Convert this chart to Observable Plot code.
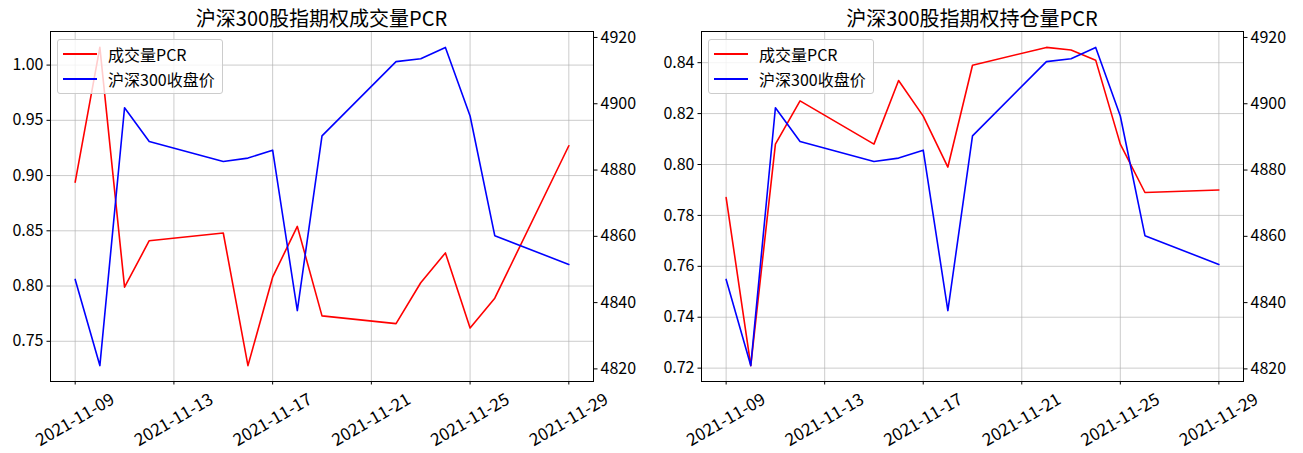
<!DOCTYPE html>
<html>
<head>
<meta charset="utf-8">
<script src="https://cdn.jsdelivr.net/npm/d3@7"></script>
<script src="https://cdn.jsdelivr.net/npm/@observablehq/plot@0.6"></script>
<style>
html, body { margin: 0; padding: 0; background: #fff; }
#root { position: relative; width: 1303px; height: 453px; overflow: hidden;
  font-family: 'Noto Sans CJK SC', 'Noto Sans', sans-serif; color: #000; }
.layer { position: absolute; top: 0; }
.title { position: absolute; top: 5px; height: 26px; line-height: 26px; font-size: 20px;
  text-align: center; white-space: nowrap; }
.legend { position: absolute; width: 166px; height: 55px; box-sizing: border-box;
  background: rgba(255,255,255,0.8); border: 1px solid #cccccc; border-radius: 3px; }
.legend .sw { position: absolute; left: 5px; width: 34px; height: 2px; }
.legend .lb { position: absolute; left: 50px; font-size: 16px; line-height: 20px; height: 20px; white-space: nowrap; }
</style>
</head>
<body>
<div id="root"></div>
<script>
// ---- data ----
const dates = ["2021-11-09","2021-11-10","2021-11-11","2021-11-12","2021-11-15","2021-11-16","2021-11-17",
  "2021-11-18","2021-11-19","2021-11-22","2021-11-23","2021-11-24","2021-11-25","2021-11-26","2021-11-29"];
const volumePCR = [0.894, 1.016, 0.799, 0.841, 0.848, 0.728, 0.808, 0.854, 0.773, 0.766, 0.803, 0.830, 0.762, 0.789, 0.927];
const openInterestPCR = [0.787, 0.721, 0.808, 0.825, 0.808, 0.833, 0.819, 0.799, 0.839, 0.846, 0.845, 0.841, 0.808, 0.789, 0.790];
const hs300Close = [4847.0, 4821.0, 4898.8, 4888.6, 4882.6, 4883.6, 4886.0, 4837.6, 4890.3, 4912.7, 4913.6, 4917.0, 4896.3, 4860.2, 4851.5];
const xTickLabels = ["2021-11-09","2021-11-13","2021-11-17","2021-11-21","2021-11-25","2021-11-29"];
const volumeTicks = [0.75, 0.80, 0.85, 0.90, 0.95, 1.00];
const oiTicks = [0.72, 0.74, 0.76, 0.78, 0.80, 0.82, 0.84];
const priceTicks = [4820, 4840, 4860, 4880, 4900, 4920];
const titles = ["沪深300股指期权成交量PCR", "沪深300股指期权持仓量PCR"];
const legendLabels = ["成交量PCR", "沪深300收盘价"];

// ---- layout ----
const H = 453;
const FONT = "'Noto Sans CJK SC', 'Noto Sans', sans-serif";
const root = document.getElementById("root");
const xDomain = [new Date("2021-11-08"), new Date("2021-11-30")];
const xTicks = xTickLabels.map(d => new Date(d));
const pad = ext => { const d = (ext[1] - ext[0]) * 0.05; return [ext[0] - d, ext[1] + d]; };

const panels = [
  { left: 0, width: 651, marginLeft: 50, marginRight: 58, pcr: volumePCR, ticks: volumeTicks, title: titles[0] },
  { left: 651, width: 652, marginLeft: 50, marginRight: 60, pcr: openInterestPCR, ticks: oiTicks, title: titles[1] }
];

const gridStyle = { stroke: "#b0b0b0", strokeOpacity: 0.65, strokeWidth: 1 };

for (const p of panels) {
  const rows = dates.map((d, i) => ({ date: new Date(d), pcr: p.pcr[i], close: hs300Close[i] }));
  const common = {
    width: p.width, height: H,
    marginLeft: p.marginLeft, marginRight: p.marginRight, marginTop: 31, marginBottom: 72,
    style: { fontFamily: FONT, fontSize: "16px", background: "transparent", color: "#000", overflow: "visible" }
  };
  const base = Plot.plot({
    ...common,
    x: { type: "utc", domain: xDomain },
    y: { domain: pad(d3.extent(p.pcr)) },
    marks: [
      Plot.gridX(xTicks, gridStyle),
      Plot.gridY(p.ticks, gridStyle),
      Plot.line(rows, { x: "date", y: "pcr", stroke: "#ff0000", strokeWidth: 1.6 }),
      Plot.axisY(p.ticks, { anchor: "left", tickSize: 3.5, tickPadding: 3.5, tickFormat: d3.format(".2f"), label: null, fontSize: 16 }),
      Plot.axisX(xTicks, { anchor: "bottom", tickSize: 3.5, tickPadding: 35, tickRotate: -30,
        textAnchor: "middle", lineAnchor: "middle", tickFormat: d3.utcFormat("%Y-%m-%d"), label: null, fontSize: 17 }),
      Plot.frame({ stroke: "#000", strokeWidth: 1 })
    ]
  });
  const over = Plot.plot({
    ...common,
    x: { type: "utc", domain: xDomain, axis: null },
    y: { domain: pad(d3.extent(hs300Close)), axis: null },
    marks: [
      Plot.line(rows, { x: "date", y: "close", stroke: "#0000ff", strokeWidth: 1.6 }),
      Plot.axisY(priceTicks, { anchor: "right", tickSize: 3.5, tickPadding: 3.5, tickFormat: d => String(d), label: null, fontSize: 16 })
    ]
  });
  for (const svg of [base, over]) {
    svg.classList.add("layer");
    svg.style.left = p.left + "px";
    root.appendChild(svg);
  }
  const frameL = p.left + p.marginLeft, frameR = p.left + p.width - p.marginRight;
  const t = document.createElement("div");
  t.className = "title";
  t.textContent = p.title;
  t.style.left = frameL + "px";
  t.style.width = (frameR - frameL) + "px";
  root.appendChild(t);

  const lg = document.createElement("div");
  lg.className = "legend";
  lg.style.left = (frameL + 7) + "px";
  lg.style.top = "39px";
  const colors = ["#ff0000", "#0000ff"];
  legendLabels.forEach((lab, i) => {
    const cy = 13 + i * 25;
    const sw = document.createElement("div");
    sw.className = "sw";
    sw.style.top = cy + "px";
    sw.style.background = colors[i];
    lg.appendChild(sw);
    const lb = document.createElement("div");
    lb.className = "lb";
    lb.style.top = (cy - 9) + "px";
    lb.textContent = lab;
    lg.appendChild(lb);
  });
  root.appendChild(lg);
}
</script>
</body>
</html>
